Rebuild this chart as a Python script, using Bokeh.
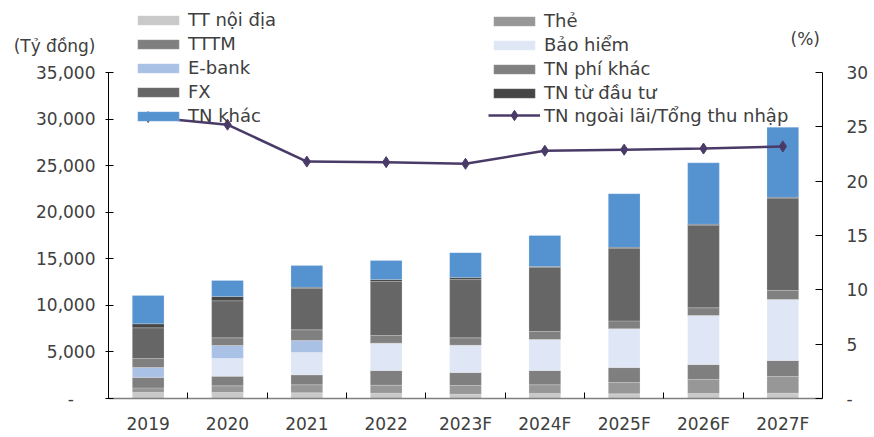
from bokeh.plotting import figure
from bokeh.models import (Range1d, LinearAxis, FixedTicker, SingleIntervalTicker,
                          NumeralTickFormatter, Legend, LegendItem, Label, ColumnDataSource)
from bokeh.embed import file_html
from bokeh.resources import INLINE

categories = ["2019", "2020", "2021", "2022", "2023F", "2024F", "2025F", "2026F", "2027F"]
tt_noi_dia = [640, 640, 610, 570, 460, 540, 500, 540, 570]
the = [500, 720, 860, 860, 930, 930, 1210, 1500, 1790]
tttm = [1140, 1030, 1070, 1580, 1400, 1530, 1610, 1610, 1720]
bao_hiem = [0, 1900, 2390, 2930, 2930, 3330, 4180, 5260, 6550]
ebank = [1040, 1400, 1290, 0, 0, 0, 0, 0, 0]
phi_khac = [970, 830, 1150, 830, 790, 860, 830, 830, 970]
fx = [3300, 3970, 4460, 5790, 6260, 6870, 7800, 8870, 9910]
dau_tu = [430, 460, 110, 210, 210, 110, 100, 100, 100]
tn_khac = [3040, 1720, 2330, 2040, 2680, 3330, 5760, 6590, 7510]
ratio = [25.9, 25.2, 21.8, 21.75, 21.6, 22.8, 22.9, 23.0, 23.2]

series_names = ["TT nội địa", "Thẻ", "TTTM", "Bảo hiểm", "E-bank",
                "TN phí khác", "FX", "TN từ đầu tư", "TN khác"]
series_vals = [tt_noi_dia, the, tttm, bao_hiem, ebank, phi_khac, fx, dau_tu, tn_khac]
series_colors = ["#C9C9C9", "#979797", "#7F7F7F", "#DFE7F7", "#AAC1E6",
                 "#808080", "#666666", "#464646", "#5592D0"]
line_name = "TN ngoài lãi/Tổng thu nhập"
line_color = "#4A3A68"
left_unit = "(Tỷ đồng)"
right_unit = "(%)"
left_max, left_step = 35000, 5000
right_max, right_step = 30, 5

FONT = "DejaVu Sans"
TXT = "#404040"

# layout (pixels)
FRAME_W = 714
FRAME_H = 398          # frame reaches the top of the canvas
AXIS_H = 326           # drawn height of the value axes
scale = FRAME_H / AXIS_H

xs = [i + 0.5 for i in range(len(categories))]
keys = ["s%d" % i for i in range(len(series_vals))]
data = {"x": xs, "ratio": ratio}
for k, v in zip(keys, series_vals):
    data[k] = v
source = ColumnDataSource(data)

p = figure(frame_width=FRAME_W, frame_height=FRAME_H,
           x_range=Range1d(0, len(categories)), y_range=Range1d(0, left_max * scale),
           output_backend="svg", toolbar_location=None,
           min_border_left=108, min_border_right=44, min_border_top=0, min_border_bottom=37)
p.outline_line_color = None
p.xgrid.visible = False
p.ygrid.visible = False
p.background_fill_color = "white"

bars = p.vbar_stack(keys, x="x", width=0.4, color=series_colors, source=source,
                    line_color="white", line_width=0.4, line_alpha=0.5)

p.extra_y_ranges = {"pct": Range1d(0, right_max * scale)}
ln = p.line("x", "ratio", source=source, y_range_name="pct", color=line_color, line_width=2.5)
mk = p.scatter("x", "ratio", source=source, y_range_name="pct", marker="diamond",
               size=11, color=line_color)

# left axis
ya = p.yaxis[0]
ya.bounds = (0, left_max)
ya.ticker = SingleIntervalTicker(interval=left_step, num_minor_ticks=0)
ya.formatter = NumeralTickFormatter(format="0,0")
ya.major_label_overrides = {0: "-\u2007\u2007"}
ya.major_tick_in = 5
ya.major_tick_out = 3
ya.minor_tick_line_color = None
ya.major_label_standoff = 10
ya.axis_line_color = "black"
ya.major_tick_line_color = "black"

# unit label on an outer, line-less left axis
unit_pos = left_max * scale * (FRAME_H - 45) / FRAME_H
ua = LinearAxis(ticker=FixedTicker(ticks=[unit_pos]),
                major_label_overrides={unit_pos: left_unit})
ua.axis_line_color = None
ua.major_tick_line_color = None
ua.minor_tick_line_color = None
ua.major_tick_in = 0
ua.major_tick_out = 0
ua.major_label_standoff = -62
p.add_layout(ua, "left")

# right axis
ra = LinearAxis(y_range_name="pct", ticker=SingleIntervalTicker(interval=right_step, num_minor_ticks=0))
ra.bounds = (0, right_max)
ra.major_label_overrides = {0: "-"}
ra.major_tick_in = 7
ra.major_tick_out = 0
ra.minor_tick_line_color = None
ra.major_label_standoff = 24
ra.axis_line_color = "black"
ra.major_tick_line_color = "black"
p.add_layout(ra, "right")

# x axis
xa = p.xaxis[0]
xa.ticker = FixedTicker(ticks=xs, minor_ticks=[i for i in range(1, len(categories))])
xa.major_label_overrides = dict(zip(xs, categories))
xa.major_tick_in = 0
xa.major_tick_out = 0
xa.minor_tick_in = 6
xa.minor_tick_out = 0
xa.minor_tick_line_color = "black"
xa.axis_line_color = "#808080"
xa.axis_line_width = 1.5
xa.major_label_standoff = 15

for ax in (xa, ya, ra, ua):
    ax.major_label_text_font = FONT
    ax.major_label_text_font_size = "17px"
    ax.major_label_text_color = TXT

# legends
items1 = []
items2 = []
for i, (name, r) in enumerate(zip(series_names, bars)):
    it = LegendItem(label=name, renderers=[r])
    (items1 if i % 2 == 0 else items2).append(it)

common = dict(orientation="vertical", glyph_width=52, label_height=20, spacing=3,
              label_standoff=4, padding=0, margin=0,
              border_line_color=None, background_fill_alpha=0,
              label_text_font=FONT, label_text_font_size="18px",
              label_text_color=TXT)
p.add_layout(Legend(items=items1, location=(24, 272), glyph_height=12, **common), "center")
p.add_layout(Legend(items=items2, location=(380, 295), glyph_height=12, **common), "center")
p.add_layout(Legend(items=[LegendItem(label=line_name, renderers=[ln, mk])],
                    location=(380, 270), glyph_height=26, **common), "center")

p.add_layout(Label(x=682, y=FRAME_H - 38, x_units="screen", y_units="screen", text=right_unit,
                   text_baseline="middle", text_font=FONT, text_font_size="17px",
                   text_color=TXT))

open("out.html", "w").write(file_html(p, INLINE))
